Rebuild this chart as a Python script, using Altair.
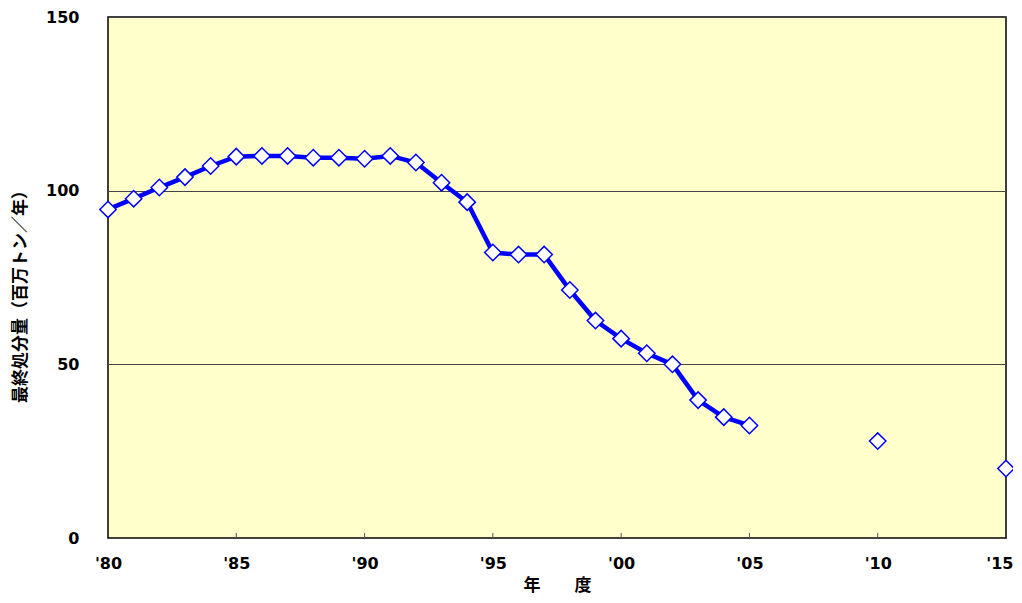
import altair as alt
import pandas as pd

years = [1980, 1981, 1982, 1983, 1984, 1985, 1986, 1987, 1988, 1989, 1990,
         1991, 1992, 1993, 1994, 1995, 1996, 1997, 1998, 1999, 2000, 2001,
         2002, 2003, 2004, 2005, 2010, 2015]
values = [94.6, 97.7, 100.9, 103.9, 107.1, 109.8, 110.0, 110.0, 109.5, 109.5,
          109.2, 110.0, 108.1, 102.3, 96.7, 82.2, 81.6, 81.6, 71.4, 62.6,
          57.4, 53.2, 50.0, 39.7, 34.8, 32.4, 27.9, 20.0]
connected = [y <= 2005 for y in years]
tick_years = [1980, 1985, 1990, 1995, 2000, 2005, 2010, 2015]
inner_ticks = [1985, 1990, 1995, 2000, 2005, 2010]
y_ticks = [0, 50, 100, 150]

df = pd.DataFrame({"year": years, "value": values, "connected": connected})
df_ticks = pd.DataFrame({"year": inner_ticks})

W, H = 898, 521
NUM_FONT = "DejaVu Sans"
CJK_FONT = "Noto Sans CJK JP"

x_scale = alt.Scale(domain=[1980, 2015], nice=False, zero=False)
y_scale = alt.Scale(domain=[0, 150], nice=False)

x_axis = alt.Axis(
    values=tick_years,
    labelExpr="\"'\" + substring(toString(datum.value), 2, 4)",
    ticks=False, grid=False, domain=False,
    labelFont=NUM_FONT, labelFontSize=16, labelFontWeight="bold", labelColor="black",
    labelPadding=17, labelFlush=False,
    labelAlign={"condition": {"test": "datum.value == 2015", "value": "right"},
                "value": "center"},
    labelOffset={"condition": {"test": "datum.value == 2015", "value": 7},
                 "value": 0},
    title="年　　度", titleFont=CJK_FONT, titleFontSize=17, titleFontWeight="bold",
    titleColor="black", titlePadding=6,
)
y_axis = alt.Axis(
    values=y_ticks, ticks=False, domain=False,
    grid=True, gridColor="#444444", gridWidth=1,
    labelFont=NUM_FONT, labelFontSize=16, labelFontWeight="bold", labelColor="black",
    labelPadding=29, labelFlush=False,
    title="最終処分量（百万トン／年）", titleFont=CJK_FONT, titleFontSize=17,
    titleFontWeight="bold", titleColor="black",
    titleAngle=270, titleAlign="center", titleBaseline="middle",
    titleX=-88, titleY=275,
)

base = alt.Chart(df)

line = base.transform_filter(alt.datum.connected).mark_line(
    color="#0000FF", strokeWidth=4.5
).encode(
    x=alt.X("year:Q", scale=x_scale, axis=x_axis),
    y=alt.Y("value:Q", scale=y_scale, axis=y_axis),
)

points = base.mark_point(
    shape="diamond", filled=True, fill="white", stroke="#0000FF",
    strokeWidth=1.5, size=270, opacity=1,
).encode(
    x=alt.X("year:Q", scale=x_scale),
    y=alt.Y("value:Q", scale=y_scale),
)

ticks = alt.Chart(df_ticks).mark_rule(color="#555555", strokeWidth=1).encode(
    x=alt.X("year:Q", scale=x_scale),
    y=alt.value(H),
    y2=alt.value(H - 5),
)

chart = alt.layer(line, ticks, points).properties(
    width=W, height=H,
    autosize=alt.AutoSizeParams(type="none"),
    padding={"left": 100, "top": 9, "right": 7, "bottom": 63},
    background="white",
).configure_view(
    fill="#FFFFCC", stroke="black", strokeWidth=1.5,
)

chart.save("out.html", embed_options={"renderer": "svg", "actions": False})
